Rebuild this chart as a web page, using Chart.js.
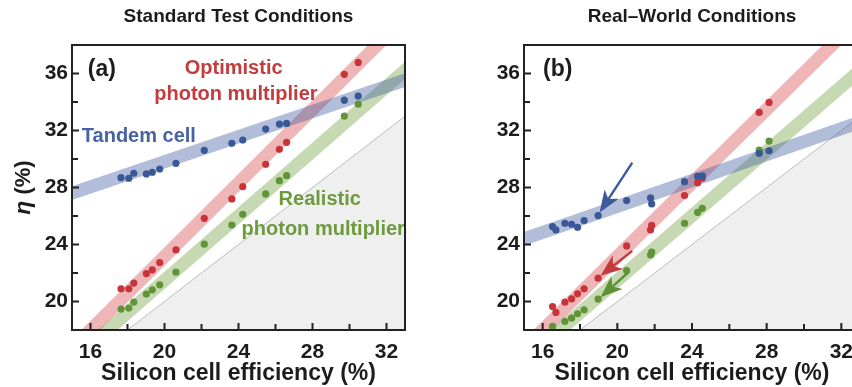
<!DOCTYPE html>
<html>
<head>
<meta charset="utf-8">
<script src="https://cdn.jsdelivr.net/npm/chart.js@4.4.1/dist/chart.umd.min.js"></script>
<style>
  html, body { margin: 0; padding: 0; background: #fff; overflow: hidden; width: 852px; height: 387px; }
  .panel { position: absolute; top: 0; }
  #wrapA { left: 0; }
  #wrapB { left: 440px; }
</style>
</head>
<body>
<div class="panel" id="wrapA"><canvas id="chartA" width="426" height="387"></canvas></div>
<div class="panel" id="wrapB"><canvas id="chartB" width="440" height="387"></canvas></div>
<script>
// ---- Standard test conditions: silicon cell efficiency vs. combined efficiency (%)
const stcSilicon    = [17.65, 18.07, 18.34, 19.02, 19.34, 19.74, 20.62, 22.15, 23.64, 24.23, 25.47, 26.21, 26.60, 29.72, 30.47];
const stcTandem     = [28.69, 28.65, 29.00, 28.95, 29.07, 29.30, 29.70, 30.61, 31.10, 31.33, 32.10, 32.45, 32.50, 34.13, 34.41];
const stcOptimistic = [20.89, 20.89, 21.29, 21.96, 22.22, 22.73, 23.62, 25.84, 27.20, 28.06, 29.63, 30.68, 31.17, 35.94, 36.78];
const stcRealistic  = [19.47, 19.54, 19.96, 20.52, 20.82, 21.17, 22.06, 24.02, 25.37, 26.12, 27.55, 28.48, 28.83, 33.01, 33.85];

// ---- Real-world conditions
const rwSilicon    = [16.53, 16.71, 17.19, 17.55, 17.87, 18.22, 18.97, 20.50, 21.78, 21.84, 23.60, 24.30, 24.55, 27.60, 28.13];
const rwTandem     = [25.26, 25.02, 25.49, 25.42, 25.21, 25.68, 26.03, 27.08, 27.27, 26.85, 28.41, 28.78, 28.81, 30.40, 30.58];
const rwOptimistic = [19.65, 19.23, 19.96, 20.19, 20.54, 20.89, 21.64, 23.90, 25.02, 25.35, 27.43, 28.34, 28.65, 33.27, 33.97];
const rwRealistic  = [18.25, null,  18.60, 18.84, 19.14, 19.42, 20.17, 22.17, 23.27, 23.46, 25.49, 26.26, 26.54, 30.63, 31.26];

// ---- Trend bands (efficiency at silicon 14 % and 34 %)
const bandSilicon    = [14, 34];
const bandOptimistic = [15.42, 41.22];
const bandRealistic  = [14.68, 37.36];
const stcTandemBand  = [27.16, 35.98];
const rwTandemBand   = [23.94, 33.04];
const parityLine     = [14, 34];   // combined efficiency equal to silicon efficiency

// ---- Arrows in the real-world panel: [silicon, efficiency] tail -> head
const arrowTails = [[20.80, 29.74], [20.80, 23.55], [20.55, 22.00]];
const arrowHeads = [[19.05, 26.25], [19.10, 21.80], [19.10, 20.30]];

// ---- Axis ticks
const xMajorTicks = [16, 20, 24, 28, 32];
const xMinorTicks = [18, 22, 26, 30];
const yMajorTicks = [20, 24, 28, 32, 36];
const yMinorTicks = [22, 26, 30, 34];

const FONT = '"Liberation Sans", Arial, Helvetica, sans-serif';
const INK = '#1c1c1c';
const BLUE = '#3a5796', RED = '#c8343a', GREEN = '#609436';
const BLUE_BAND = 'rgba(62, 92, 160, 0.40)';
const RED_BAND = 'rgba(212, 72, 72, 0.40)';
const GREEN_BAND = 'rgba(112, 160, 62, 0.40)';

function pairs(xs, ys) {
  const out = [];
  xs.forEach((x, i) => { if (ys[i] !== null && ys[i] !== undefined) out.push({ x, y: ys[i] }); });
  return out;
}

function datasetsFor(silicon, tandem, optimistic, realistic, tandemBand) {
  const band = (ys, color) => ({
    data: pairs(bandSilicon, ys), showLine: true, borderColor: color, borderWidth: 13,
    borderCapStyle: 'butt', pointRadius: 0, fill: false, order: 2
  });
  const dots = (ys, color, order) => ({
    data: pairs(silicon, ys), backgroundColor: color, borderWidth: 0,
    pointRadius: 3.6, pointHoverRadius: 3.6, order
  });
  return [
    dots(tandem, BLUE, 0),
    dots(optimistic, RED, 1),
    dots(realistic, GREEN, 1),
    band(tandemBand, BLUE_BAND),
    band(bandOptimistic, RED_BAND),
    band(bandRealistic, GREEN_BAND),
    {
      data: pairs(bandSilicon, parityLine), showLine: true, borderColor: '#bdbdbd', borderWidth: 1,
      backgroundColor: '#efefef', fill: 'start', pointRadius: 0, order: 3
    }
  ];
}

function scalesFor(yWidth) {
  return {
    x: {
      type: 'linear', min: 15, max: 33,
      afterBuildTicks: s => { s.ticks = xMajorTicks.concat(xMinorTicks).sort((a, b) => a - b).map(v => ({ value: v })); },
      afterFit: s => { s.height = 57; },
      grid: { display: false, drawTicks: false }, border: { display: false },
      ticks: {
        callback: v => xMajorTicks.includes(v) ? String(v) : '',
        font: { family: FONT, size: 21, weight: 'bold' }, color: INK, padding: 10,
        maxRotation: 0, autoSkip: false
      },
      title: {
        display: true, text: 'Silicon cell efficiency (%)', color: INK,
        font: { family: FONT, size: 23, weight: 'bold' }, padding: { top: 0, bottom: 0 }
      }
    },
    y: {
      type: 'linear', min: 18, max: 38,
      afterBuildTicks: s => { s.ticks = yMajorTicks.concat(yMinorTicks).sort((a, b) => a - b).map(v => ({ value: v })); },
      afterFit: s => { s.width = yWidth; },
      grid: { display: false, drawTicks: false }, border: { display: false },
      ticks: {
        callback: v => yMajorTicks.includes(v) ? String(v) : '',
        font: { family: FONT, size: 21, weight: 'bold' }, color: INK, padding: 4, autoSkip: false
      }
    }
  };
}

// Frame, inward ticks, panel heading, tag, curve labels and arrows
function decorations(cfg) {
  return {
    id: 'decor' + cfg.tag,
    afterDatasetsDraw(chart) {
      const { ctx, chartArea: a, scales: { x, y } } = chart;
      ctx.save();
      ctx.beginPath();
      ctx.rect(a.left, a.top, a.right - a.left, a.bottom - a.top);
      ctx.clip();
      ctx.textBaseline = 'middle';
      cfg.labels.forEach(l => {
        ctx.font = 'bold ' + l.size + 'px ' + FONT;
        ctx.fillStyle = l.color;
        ctx.textAlign = l.align || 'center';
        ctx.fillText(l.text, x.getPixelForValue(l.at[0]), y.getPixelForValue(l.at[1]));
      });
      (cfg.arrows || []).forEach(ar => {
        const x0 = x.getPixelForValue(ar.from[0]), y0 = y.getPixelForValue(ar.from[1]);
        const x1 = x.getPixelForValue(ar.to[0]), y1 = y.getPixelForValue(ar.to[1]);
        const ang = Math.atan2(y1 - y0, x1 - x0);
        const len = 22, half = 8.5, notch = 6;
        const c = Math.cos(ang), s = Math.sin(ang);
        const bx = x1 - c * len, by = y1 - s * len;
        ctx.strokeStyle = ar.color; ctx.fillStyle = ar.color; ctx.lineWidth = 2.4;
        ctx.beginPath(); ctx.moveTo(x0, y0);
        ctx.lineTo(x1 - c * (len - notch), y1 - s * (len - notch)); ctx.stroke();
        ctx.beginPath();
        ctx.moveTo(x1, y1);
        ctx.lineTo(bx - s * half, by + c * half);
        ctx.lineTo(x1 - c * (len - notch), y1 - s * (len - notch));
        ctx.lineTo(bx + s * half, by - c * half);
        ctx.closePath(); ctx.fill();
      });
      ctx.restore();
    },
    afterDraw(chart) {
      const { ctx, chartArea: a, scales: { x, y } } = chart;
      ctx.save();
      ctx.strokeStyle = '#222';
      ctx.lineWidth = 2;
      ctx.strokeRect(a.left, a.top, a.right - a.left, a.bottom - a.top);
      ctx.beginPath();
      x.ticks.forEach(t => {
        const px = x.getPixelForValue(t.value);
        const len = xMajorTicks.includes(t.value) ? 7 : 6;
        ctx.moveTo(px, a.bottom); ctx.lineTo(px, a.bottom - len);
      });
      y.ticks.forEach(t => {
        const py = y.getPixelForValue(t.value);
        const len = yMajorTicks.includes(t.value) ? 7 : 6;
        ctx.moveTo(a.left, py); ctx.lineTo(a.left + len, py);
      });
      ctx.stroke();

      // panel heading
      ctx.fillStyle = INK;
      ctx.textAlign = 'center';
      ctx.textBaseline = 'middle';
      ctx.font = 'bold 19px ' + FONT;
      ctx.fillText(cfg.heading, (a.left + a.right) / 2, 17);

      // panel tag
      ctx.textAlign = 'left';
      ctx.font = 'bold 23px ' + FONT;
      ctx.fillText(cfg.tag, x.getPixelForValue(cfg.tagAt[0]), y.getPixelForValue(cfg.tagAt[1]));

      // vertical axis title with italic eta
      if (cfg.yTitle) {
        ctx.translate(24, (a.top + a.bottom) / 2);
        ctx.rotate(-Math.PI / 2);
        const f1 = 'italic bold 23px ' + FONT, f2 = 'bold 22px ' + FONT;
        ctx.font = f1; const w1 = ctx.measureText('η').width;
        ctx.font = f2; const w2 = ctx.measureText(' (%)').width;
        ctx.textAlign = 'left';
        ctx.font = f1; ctx.fillText('η', -(w1 + w2) / 2, 0);
        ctx.font = f2; ctx.fillText(' (%)', -(w1 + w2) / 2 + w1, 0);
      }
      ctx.restore();
    }
  };
}

function build(canvasId, yWidth, rightPad, datasets, decor) {
  return new Chart(document.getElementById(canvasId), {
    type: 'scatter',
    data: { datasets },
    options: {
      responsive: false, animation: false, devicePixelRatio: 1,
      layout: { padding: { left: 0, right: rightPad, top: 45, bottom: 0 }, autoPadding: false },
      plugins: { legend: { display: false }, tooltip: { enabled: false }, title: { display: false } },
      events: [],
      scales: scalesFor(yWidth)
    },
    plugins: [decor]
  });
}

build('chartA', 72, 21,
  datasetsFor(stcSilicon, stcTandem, stcOptimistic, stcRealistic, stcTandemBand),
  decorations({
    heading: 'Standard Test Conditions', tag: '(a)', tagAt: [15.85, 36.3], yTitle: true,
    labels: [
      { text: 'Optimistic', at: [23.74, 36.34], color: '#c33b3d', size: 20 },
      { text: 'photon multiplier', at: [23.86, 34.5], color: '#c33b3d', size: 20 },
      { text: 'Tandem cell', at: [15.53, 31.58], color: '#4863a3', size: 20, align: 'left' },
      { text: 'Realistic', at: [28.39, 27.13], color: '#6c9b3f', size: 20 },
      { text: 'photon multiplier', at: [28.58, 25.02], color: '#6c9b3f', size: 20 }
    ]
  }));

build('chartB', 84, 20,
  datasetsFor(rwSilicon, rwTandem, rwOptimistic, rwRealistic, rwTandemBand),
  decorations({
    heading: 'Real\u2013World Conditions', tag: '(b)', tagAt: [16.02, 36.3], yTitle: false,
    labels: [],
    arrows: [
      { from: arrowTails[0], to: arrowHeads[0], color: '#3d5a9c' },
      { from: arrowTails[1], to: arrowHeads[1], color: '#c43a3a' },
      { from: arrowTails[2], to: arrowHeads[2], color: '#5e9236' }
    ]
  }));
</script>
</body>
</html>
